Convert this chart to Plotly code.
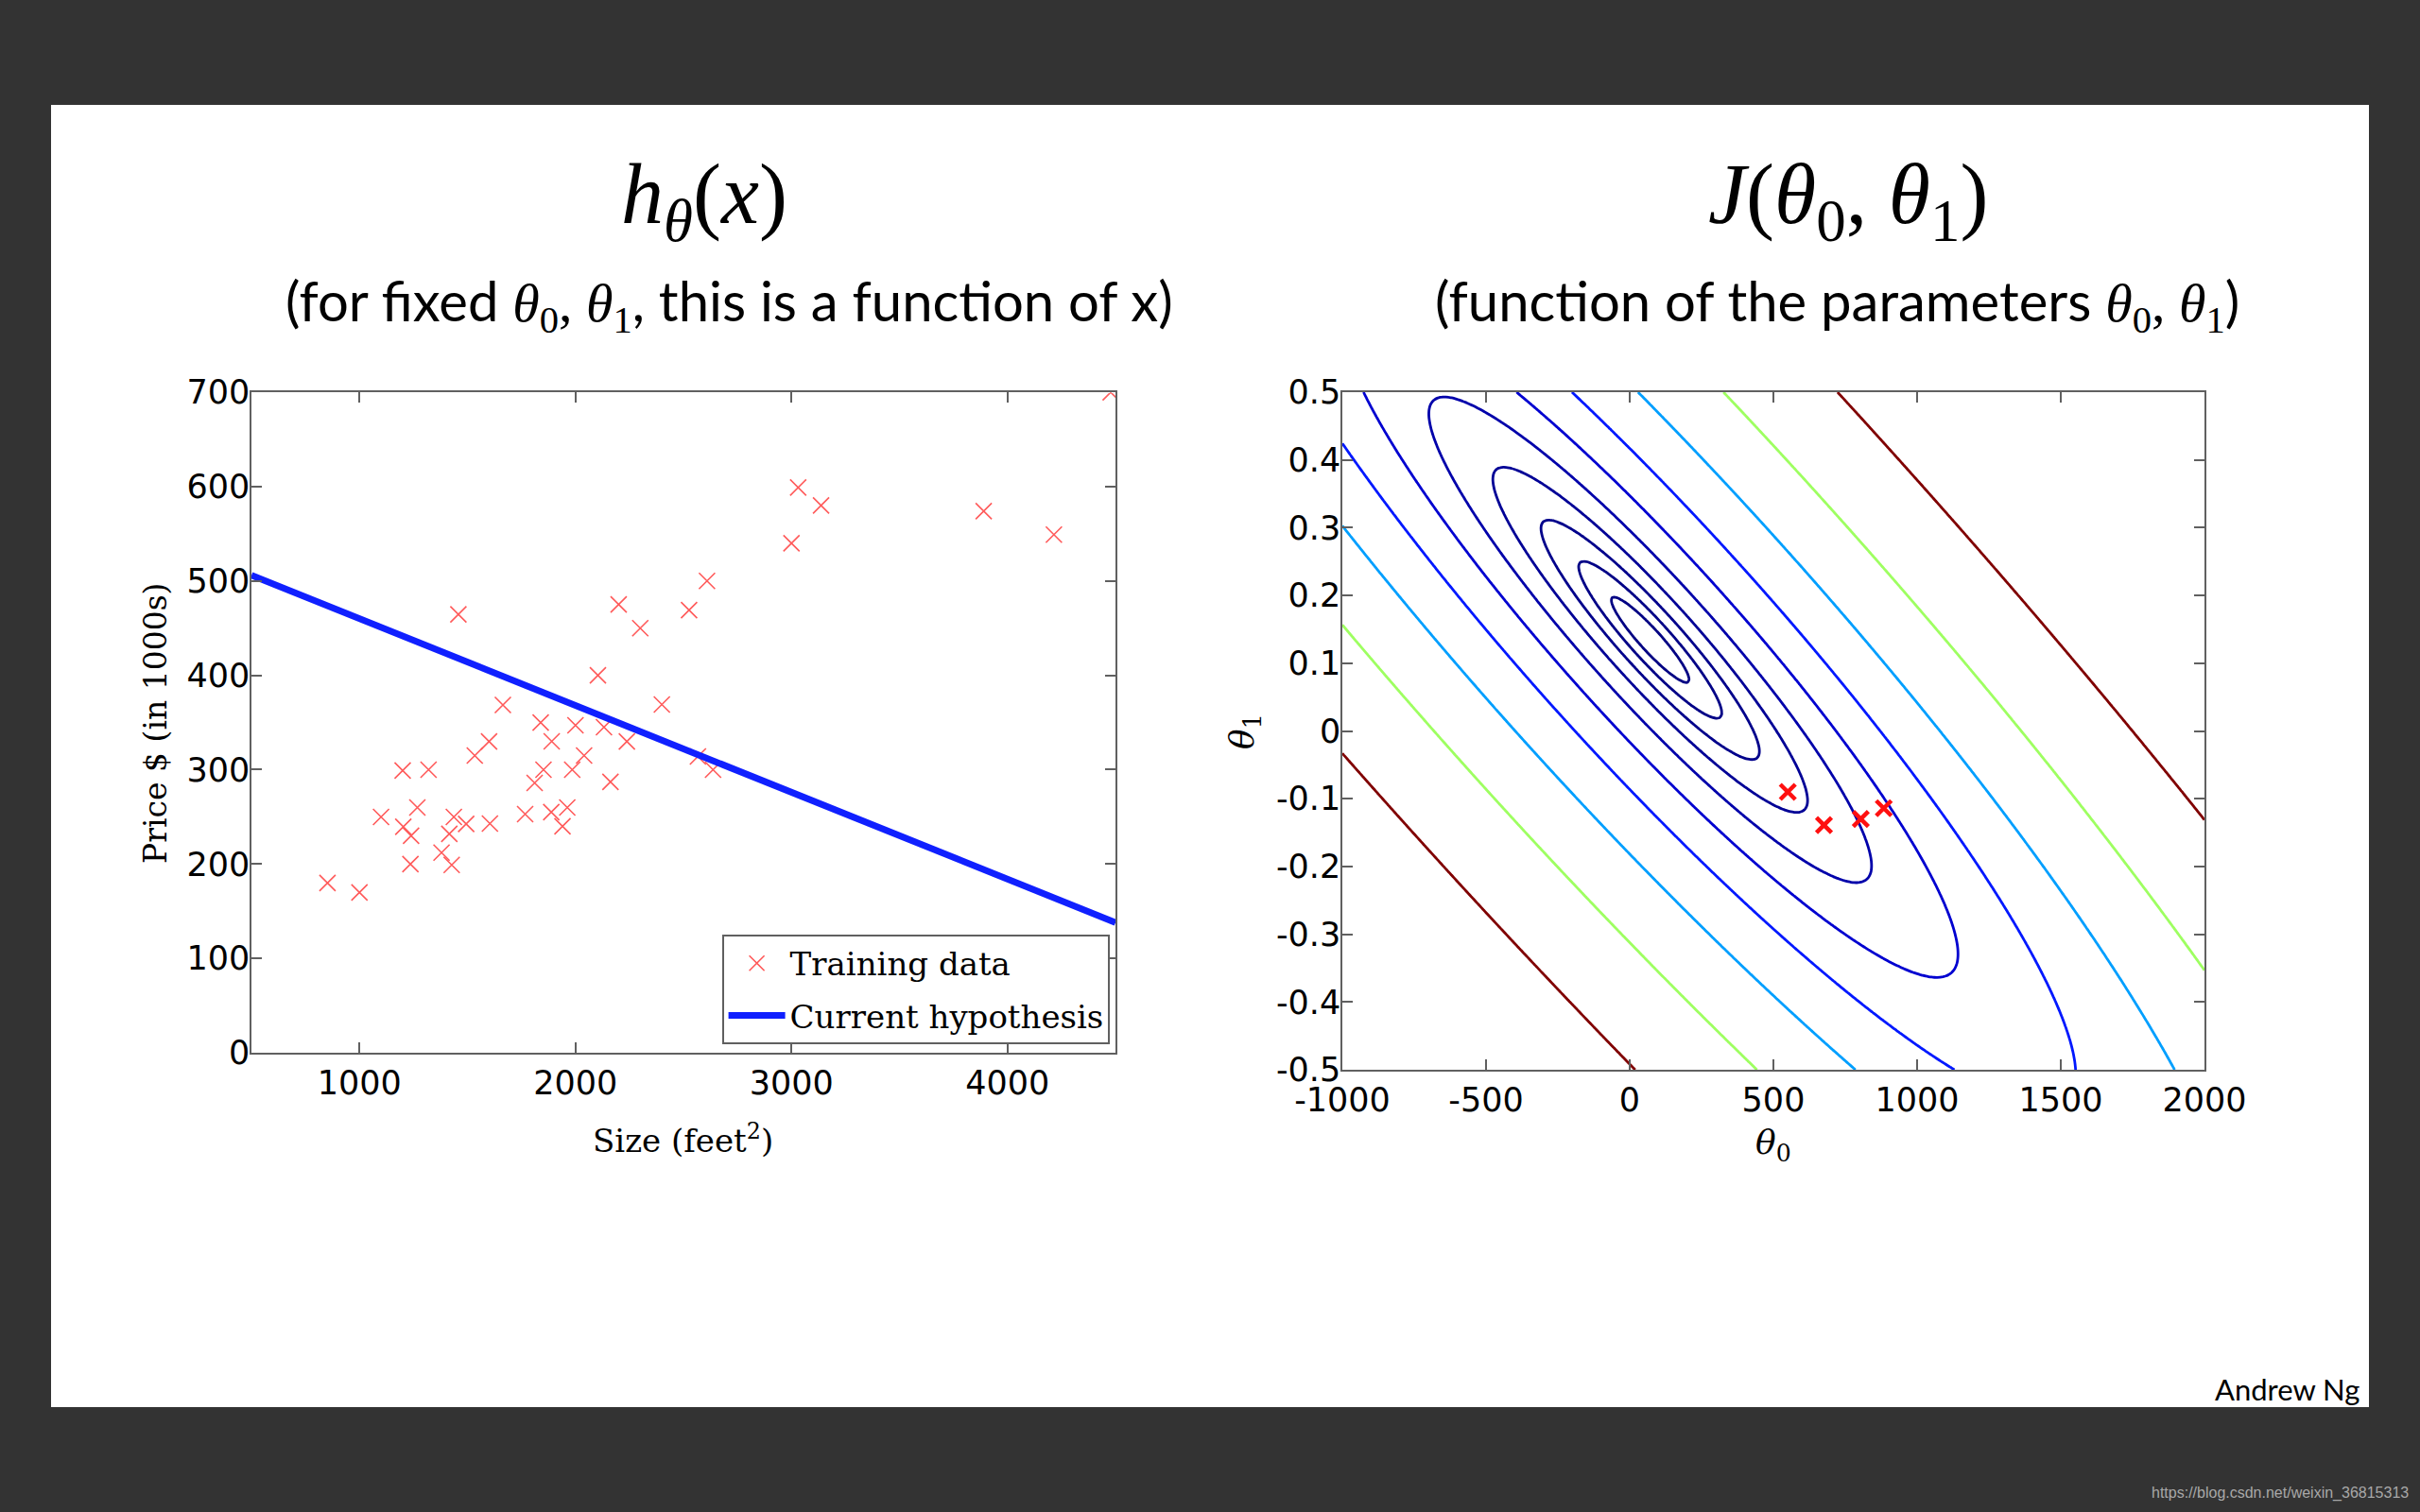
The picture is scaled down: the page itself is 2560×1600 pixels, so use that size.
import numpy as np
import plotly.graph_objects as go

# ---------------- data ----------------
# Training data: size (feet^2) and price (in $1000s)
sizes = [2104, 1600, 2400, 1416, 3000, 1985, 1534, 1427, 1380, 1494, 1940, 2000,
         1890, 4478, 1268, 2300, 1320, 1236, 2609, 3031, 1767, 1888, 1604, 1962,
         3890, 1100, 1458, 2526, 2200, 2637, 1839, 1000, 2040, 3137, 1811, 1437,
         1239, 2132, 4215, 2162, 1664, 2238, 2567, 1200, 852, 1852, 1203]
prices = [399.9, 329.9, 369.0, 232.0, 539.9, 299.9, 314.9, 199.0, 212.0, 242.5,
          240.0, 347.0, 330.0, 699.9, 259.9, 449.9, 299.9, 199.9, 500.0, 599.0,
          252.9, 255.0, 242.9, 259.9, 573.9, 249.9, 464.5, 469.0, 475.0, 299.9,
          349.9, 169.9, 314.9, 579.9, 285.9, 249.9, 229.9, 345.0, 549.0, 287.0,
          368.5, 329.9, 314.0, 299.0, 179.9, 299.9, 239.5]

# Current hypothesis line (end points)
hyp_x = [500, 4500]
hyp_y = [506, 138]

# Parameter points marked on the contour plot
theta0_marks = [550, 676, 804, 884]
theta1_marks = [-0.090, -0.139, -0.130, -0.114]

# Contour levels of J visible in the chart and their line colours
cost_levels = [3290, 6210, 11720, 22120, 41750, 78800, 148700, 280700, 529700, 1000000]
level_colors = ['#000083', '#000086', '#00008b', '#000096', '#0000aa',
                '#0000d0', '#0018ff', '#009fff', '#9eff61', '#800000']

# Tick labels
left_xticks = [1000, 2000, 3000, 4000]
left_yticks = [0, 100, 200, 300, 400, 500, 600, 700]
t0_ticks = [-1000, -500, 0, 500, 1000, 1500, 2000]
t0_text = ['-1000', '-500', '0', '500', '1000', '1500', '2000']
t1_ticks = [-0.5, -0.4, -0.3, -0.2, -0.1, 0, 0.1, 0.2, 0.3, 0.4, 0.5]
t1_text = ['-0.5', '-0.4', '-0.3', '-0.2', '-0.1', '0', '0.1', '0.2', '0.3', '0.4', '0.5']

# ---------------- cost surface ----------------
xs = np.array(sizes, dtype=float)
ys = np.array(prices, dtype=float)
t0_grid = np.linspace(-1000, 2000, 301)
t1_grid = np.linspace(-0.5, 0.5, 251)
T0, T1 = np.meshgrid(t0_grid, t1_grid)
J = ((T0[..., None] + T1[..., None] * xs - ys) ** 2).mean(axis=-1) / 2.0

# ---------------- figure ----------------
W, H = 2560, 1600
def px(x):
    return x / W
def py(y):
    return 1 - y / H

fig = go.Figure()

fig.add_trace(go.Scatter(
    x=sizes, y=prices, mode='markers', name='Training data', legendgroup='a',
    marker=dict(symbol='x-thin', size=17, color='#ff5a5a',
                line=dict(width=1.6, color='#ff5a5a')),
    xaxis='x', yaxis='y'))
fig.add_trace(go.Scatter(
    x=hyp_x, y=hyp_y, mode='lines', name='Current hypothesis', legendgroup='b',
    line=dict(color='#1020ff', width=7),
    xaxis='x', yaxis='y'))

for lvl, col in zip(cost_levels, level_colors):
    fig.add_trace(go.Contour(
        x=t0_grid, y=t1_grid, z=J,
        autocontour=False,
        contours=dict(start=lvl, end=lvl, size=1, coloring='none'),
        line=dict(color=col, width=2.8, smoothing=1),
        showscale=False, showlegend=False, hoverinfo='skip',
        xaxis='x2', yaxis='y2'))

fig.add_trace(go.Scatter(
    x=theta0_marks, y=theta1_marks, mode='markers', showlegend=False,
    marker=dict(symbol='x-thin', size=16, color='#ff1010',
                line=dict(width=4.5, color='#ff1010')),
    xaxis='x2', yaxis='y2'))

tick_font = dict(family='DejaVu Sans', size=35, color='black')
axis_common = dict(showline=True, linecolor='#606060', linewidth=1.6, mirror='ticks',
                   ticks='inside', ticklen=11, tickwidth=1.5, tickcolor='#606060',
                   showgrid=False, zeroline=False, tickfont=tick_font, automargin=False)

fig.update_layout(
    width=W, height=H,
    margin=dict(l=0, r=0, t=0, b=0, pad=0, autoexpand=False),
    paper_bgcolor='#333333', plot_bgcolor='white',
    showlegend=True,
    xaxis=dict(domain=[px(266), px(1180)], anchor='y', range=[500, 4500],
               tickvals=left_xticks, **axis_common),
    yaxis=dict(domain=[py(1114), py(415)], anchor='x', range=[0, 700],
               tickvals=left_yticks, ticklabelstandoff=-7, **axis_common),
    xaxis2=dict(domain=[px(1420), px(2332)], anchor='y2', range=[-1000, 2000],
                tickvals=t0_ticks, ticktext=t0_text, **axis_common),
    yaxis2=dict(domain=[py(1132), py(415)], anchor='x2', range=[-0.5, 0.5],
                tickvals=t1_ticks, ticktext=t1_text, ticklabelstandoff=-7, **axis_common),
    legend=dict(x=px(1174), y=py(1105), xanchor='right', yanchor='bottom',
                bgcolor='white', bordercolor='#606060', borderwidth=1.6,
                font=dict(family='DejaVu Serif', size=34, color='black'),
                itemwidth=60, tracegroupgap=8, traceorder='grouped'),
    shapes=[dict(type='rect', xref='paper', yref='paper',
                 x0=px(54), x1=px(2506), y0=py(1489), y1=py(111),
                 fillcolor='white', line=dict(width=0), layer='below')],
)

serif = "font-family:'Liberation Serif'"
annots = [
    dict(x=px(745), y=py(212),
         text="<i>h</i><sub><i>θ</i></sub>(<i>x</i>)",
         font=dict(family='Liberation Serif', size=90, color='black')),
    dict(x=px(1955), y=py(212),
         text="<i>J</i>(<i>θ</i><sub>0</sub>, <i>θ</i><sub>1</sub>)",
         font=dict(family='Liberation Serif', size=90, color='black')),
    dict(x=px(771), y=py(322),
         text=("(for fixed <span style=\"" + serif + "\"><i>θ</i><sub>0</sub>, <i>θ</i><sub>1</sub></span>"
               ", this is a function of x)"),
         font=dict(family='Lato', size=58, color='black')),
    dict(x=px(1943), y=py(322),
         text=("(function of the parameters <span style=\"" + serif + "\"><i>θ</i><sub>0</sub>, "
               "<i>θ</i><sub>1</sub></span>)"),
         font=dict(family='Lato', size=58, color='black')),
    dict(x=px(722), y=py(1205), text="Size (feet<sup>2</sup>)",
         font=dict(family='DejaVu Serif', size=34, color='black')),
    dict(x=px(164), y=py(766), text="Price $ (in 1000s)", textangle=-90,
         font=dict(family='DejaVu Serif', size=33, color='black')),
    dict(x=px(1876), y=py(1211), text="<i>θ</i><sub>0</sub>",
         font=dict(family='DejaVu Serif', size=36, color='black')),
    dict(x=px(1316), y=py(774), text="<i>θ</i><sub>1</sub>", textangle=-90,
         font=dict(family='DejaVu Serif', size=36, color='black')),
    dict(x=px(2498), y=py(1470), text="Andrew Ng", xanchor='right',
         font=dict(family='Lato', size=31, color='black')),
    dict(x=px(2550), y=py(1580), text="https://blog.csdn.net/weixin_36815313", xanchor='right',
         font=dict(family='Liberation Sans', size=16, color='#a8a8a8')),
]
for a in annots:
    a.setdefault('xanchor', 'center')
    a.update(xref='paper', yref='paper', yanchor='middle', showarrow=False)
fig.update_layout(annotations=annots)

fig.write_html("out.html", config={'displayModeBar': False},
               post_script="document.body.style.margin='0';document.body.style.overflow='hidden';")
